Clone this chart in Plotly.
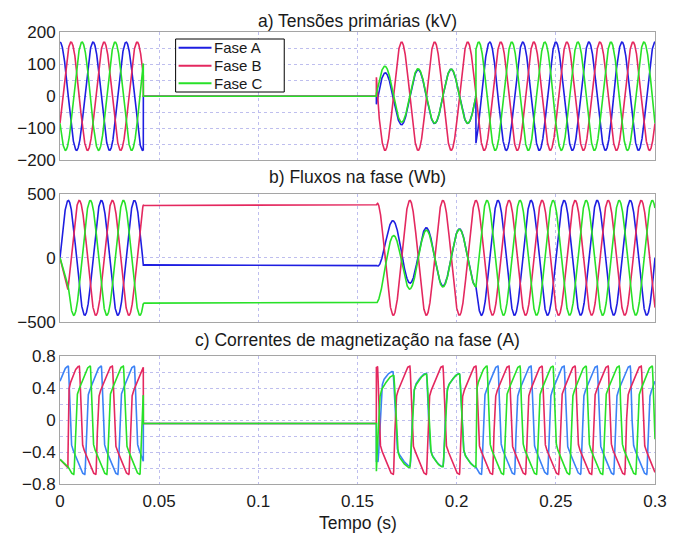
import numpy as np
import plotly.graph_objects as go
from plotly.subplots import make_subplots

# ---- phases and colours ----
PHASES = ["Fase A", "Fase B", "Fase C"]
COLORS_VF = ["rgb(30,30,225)", "rgb(228,40,95)", "rgb(40,225,40)"]
COLORS_I = ["rgb(60,130,245)", "rgb(228,40,95)", "rgb(40,225,40)"]
PHASE_DEG = [0.0, -120.0, 120.0]

# ---- network / event parameters ----
FREQ_HZ = 60.0
V_PEAK_KV = 170.0
FLUX_PEAK_WB = 450.0
T_RAMP = 0.004          # initial flux build-up in phases B and C
RAMP_FLAGS = [False, True, True]
T_OPEN = 0.042          # three poles open
T_CLOSE_B = 0.1595      # phase B recloses
T_CLOSE_AC = 0.2097     # phases A and C reclose
T_END = 0.3

FLUX_FROZEN_WB = [-55.0, 410.0, -355.0]  # residual flux while de-energised
OFFSET_TAU_S = 0.009    # decay of the A/C flux offsets after B recloses
B_STEP_TAU_S = 0.0008   # settling of phase-B flux at reclosing

# ---- magnetising branch (hysteresis) ----
I_OPEN_A = -0.04
I_COERCIVE_A = 0.49
I_SLOPE_A_PER_WB = 0.00042
KNEE_WB = 25.0
DIR_AT_START = [1, -1, -1]
DIR_AT_RECLOSE = [-1, 1, -1]

# ---- axes ----
X_TICKS = [0, 0.05, 0.1, 0.15, 0.2, 0.25, 0.3]
X_TICK_TEXT = ["0", "0.05", "0.1", "0.15", "0.2", "0.25", "0.3"]
V_TICKS = [-200, -150, -100, -50, 0, 50, 100, 150, 200]
V_TICK_TEXT = ["\u2212200", "", "\u2212100", "", "0", "", "100", "", "200"]
F_TICKS = [-500, 0, 500]
F_TICK_TEXT = ["\u2212500", "0", "500"]
I_TICKS = [-0.8, -0.6, -0.4, -0.2, 0, 0.2, 0.4, 0.6, 0.8]
I_TICK_TEXT = ["\u22120.8", "", "\u22120.4", "", "0", "", "0.4", "", "0.8"]

TITLES = ["a) Tensões primárias (kV)", "b) Fluxos na fase (Wb)",
          "c) Correntes de magnetização na fase (A)"]
X_TITLE = "Tempo (s)"

# ---- waveforms ----
t = np.linspace(0.0, T_END, 12001)
w = 2 * np.pi * FREQ_HZ
ph = np.deg2rad(PHASE_DEG)
v_ss = [V_PEAK_KV * np.cos(w * t + p) for p in ph]
f_ss = [FLUX_PEAK_WB * np.sin(w * t + p) for p in ph]

s1 = t < T_OPEN
s2 = (t >= T_OPEN) & (t < T_CLOSE_B)
s3 = (t >= T_CLOSE_B) & (t < T_CLOSE_AC)
s4 = t >= T_CLOSE_AC

fb_close = FLUX_PEAK_WB * np.sin(w * T_CLOSE_B + ph[1])
dt3 = np.clip(t - T_CLOSE_B, 0, None)
step_b = (FLUX_FROZEN_WB[1] - fb_close) * np.exp(-dt3 / B_STEP_TAU_S)

volt, flux = [], []
for k in range(3):
    f = np.empty_like(t)
    v = np.empty_like(t)
    # energised, balanced
    f[s1] = f_ss[k][s1]
    v[s1] = v_ss[k][s1]
    if RAMP_FLAGS[k]:
        r = t < T_RAMP
        f_end = FLUX_PEAK_WB * np.sin(w * T_RAMP + ph[k])
        f[r] = f_end * t[r] / T_RAMP
    # open
    f[s2] = FLUX_FROZEN_WB[k]
    v[s2] = 0.0
    # only phase B closed
    if k == 1:
        f[s3] = f_ss[1][s3] + step_b[s3]
        v[s3] = v_ss[1][s3] - step_b[s3] / B_STEP_TAU_S / 1000.0
    else:
        off = (FLUX_FROZEN_WB[k] + fb_close / 2) * np.exp(-dt3 / OFFSET_TAU_S)
        f[s3] = -f_ss[1][s3] / 2 + off[s3]
        v[s3] = -v_ss[1][s3] / 2 - off[s3] / OFFSET_TAU_S / 1000.0
    # all closed
    f[s4] = f_ss[k][s4]
    v[s4] = v_ss[k][s4]
    flux.append(f)
    volt.append(v)


def magnetizing_current(phi, d0):
    i = np.empty_like(phi)
    d = d0
    phi_r = phi[0] - d * 1e6
    i_r = 0.0
    for n in range(len(phi)):
        if n > 0 and (phi[n] - phi[n - 1]) * d < 0:
            phi_r, i_r, d = phi[n - 1], i[n - 1], -d
        base = I_SLOPE_A_PER_WB * phi[n] + d * I_COERCIVE_A
        start = I_SLOPE_A_PER_WB * phi_r + d * I_COERCIVE_A
        i[n] = base + (i_r - start) * np.exp(-abs(phi[n] - phi_r) / KNEE_WB)
    return i


curr = []
on2 = s3 | s4
for k in range(3):
    i = np.full_like(t, I_OPEN_A)
    i[s1] = magnetizing_current(flux[k][s1], DIR_AT_START[k])
    i[on2] = magnetizing_current(flux[k][on2], DIR_AT_RECLOSE[k])
    curr.append(i)

# ---- figure ----
FONT = "Liberation Sans, Arial, sans-serif"
W, H = 679, 533
ML, MR, MT, MB = 60, 22, 32, 49
fig = make_subplots(rows=3, cols=1)

for k in range(3):
    fig.add_trace(go.Scatter(x=t, y=volt[k], mode="lines", name=PHASES[k],
                             line=dict(color=COLORS_VF[k], width=1.6),
                             hoverinfo="skip"), row=1, col=1)
for k in range(3):
    fig.add_trace(go.Scatter(x=t, y=flux[k], mode="lines", name=PHASES[k],
                             line=dict(color=COLORS_VF[k], width=1.6),
                             hoverinfo="skip"), row=2, col=1)
for k in range(3):
    fig.add_trace(go.Scatter(x=t, y=curr[k], mode="lines", name=PHASES[k],
                             line=dict(color=COLORS_I[k], width=1.6),
                             hoverinfo="skip"), row=3, col=1)

DOMAINS = [[0.7168, 0.999], [0.3591, 0.6416], [0.0, 0.2821]]
Y_SPECS = [(V_TICKS, V_TICK_TEXT, [-200, 200]),
           (F_TICKS, F_TICK_TEXT, [-500, 500]),
           (I_TICKS, I_TICK_TEXT, [-0.8, 0.8])]
GRID = "rgb(190,190,238)"
FRAME = "rgb(165,165,165)"
TXT = "#1a1a1a"

for r in range(3):
    tv, tt, rng = Y_SPECS[r]
    fig.update_yaxes(row=r + 1, col=1, domain=DOMAINS[r], range=rng,
                     tickvals=tv, ticktext=tt, showgrid=True, gridcolor=GRID,
                     griddash="dot", gridwidth=1, zeroline=False,
                     showline=True, mirror=True, linecolor=FRAME, linewidth=1,
                     ticks="", tickfont=dict(family=FONT, size=17, color=TXT))
    fig.update_xaxes(row=r + 1, col=1, range=[0, T_END], tickvals=X_TICKS,
                     ticktext=X_TICK_TEXT, showticklabels=(r == 2),
                     showgrid=True, gridcolor=GRID, griddash="dot", gridwidth=1,
                     zeroline=False, showline=True, mirror=True,
                     linecolor=FRAME, linewidth=1, ticks="",
                     ticklabelstandoff=2,
                     tickfont=dict(family=FONT, size=17, color=TXT))


def px_x(px):
    return (px - ML) / (W - ML - MR)


def px_y(py):
    return 1 - (py - MT) / (H - MT - MB)


TITLE_Y = [1.0243, 0.6792, 0.3186]
annotations = []
for r in range(3):
    annotations.append(dict(text=TITLES[r], x=0.5, y=TITLE_Y[r], xref="paper",
                            yref="paper", xanchor="center", yanchor="middle",
                            showarrow=False,
                            font=dict(family=FONT, size=17.5, color=TXT)))
annotations.append(dict(text=X_TITLE, x=0.5, y=-0.0863, xref="paper",
                        yref="paper", xanchor="center", yanchor="middle",
                        showarrow=False,
                        font=dict(family=FONT, size=17.5, color=TXT)))

# legend box for the voltage panel
LEG_BOX = (176, 39, 285, 92)
LEG_ROWS = [47.7, 65.7, 83.3]
shapes = [dict(type="rect", xref="paper", yref="paper",
               x0=px_x(LEG_BOX[0]), x1=px_x(LEG_BOX[2]),
               y0=px_y(LEG_BOX[3]), y1=px_y(LEG_BOX[1]),
               line=dict(color="black", width=1), fillcolor="white",
               layer="above")]
for k in range(3):
    shapes.append(dict(type="line", xref="paper", yref="paper",
                       x0=px_x(179), x1=px_x(212),
                       y0=px_y(LEG_ROWS[k]), y1=px_y(LEG_ROWS[k]),
                       line=dict(color=COLORS_VF[k], width=2), layer="above"))
    annotations.append(dict(text=PHASES[k], x=px_x(212.5), y=px_y(LEG_ROWS[k]),
                            xref="paper", yref="paper", xanchor="left",
                            yanchor="middle", showarrow=False,
                            font=dict(family=FONT, size=15, color=TXT)))

fig.update_layout(
    width=W, height=H,
    margin=dict(l=ML, r=MR, t=MT, b=MB),
    paper_bgcolor="white", plot_bgcolor="white",
    showlegend=False,
    annotations=annotations,
    shapes=shapes,
)

fig.write_html("out.html")
